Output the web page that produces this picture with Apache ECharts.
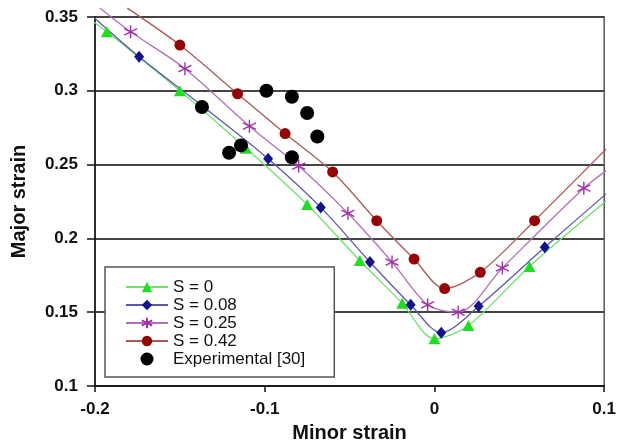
<!DOCTYPE html>
<html>
<head>
<meta charset="utf-8">
<script src="https://cdn.jsdelivr.net/npm/echarts@6/dist/echarts.min.js"></script>
<style>html,body{margin:0;padding:0;background:#fff}#c{width:619px;height:448px}</style>
</head>
<body>
<div id="c"></div>
<script>
// Marker points [minor strain, major strain]
const s0Points = [[-0.193,0.340],[-0.150,0.300],[-0.111,0.261],[-0.075,0.223],[-0.044,0.185],[-0.019,0.156],[0.000,0.132],[0.020,0.141],[0.056,0.181]];
const s0Ends = [[-0.205,0.350],[0.105,0.229]];
const s008Points = [[-0.174,0.323],[-0.136,0.289],[-0.098,0.254],[-0.067,0.221],[-0.038,0.184],[-0.014,0.155],[0.004,0.136],[0.026,0.154],[0.065,0.194]];
const s008Ends = [[-0.203,0.352],[0.105,0.234]];
const s025Points = [[-0.179,0.340],[-0.147,0.315],[-0.109,0.276],[-0.080,0.249],[-0.051,0.217],[-0.025,0.184],[-0.004,0.155],[0.014,0.150],[0.040,0.180],[0.088,0.234]];
const s025Ends = [[-0.197,0.356],[0.105,0.249]];
const s042Points = [[-0.150,0.331],[-0.116,0.298],[-0.088,0.271],[-0.060,0.245],[-0.034,0.212],[-0.012,0.186],[0.006,0.166],[0.027,0.177],[0.059,0.212]];
const s042Ends = [[-0.181,0.356],[0.105,0.265]];
const expPoints = [[-0.137,0.289],[-0.121,0.258],[-0.114,0.263],[-0.099,0.300],[-0.084,0.296],[-0.084,0.255],[-0.075,0.285],[-0.069,0.269]];
const seriesNames = ['S = 0','S = 0.08','S = 0.25','S = 0.42','Experimental [30]'];
const xTicks = [-0.2,-0.1,0,0.1];
const yTicks = [0.1,0.15,0.2,0.25,0.3,0.35];

function lineData(pts, ends){
  return [{value: ends[0], symbol:'none'}].concat(pts.map(p => ({value:p}))).concat([{value: ends[1], symbol:'none'}]);
}
const star = 'path://M10,0L10,20M1.34,5L18.66,15M1.34,15L18.66,5';
function mkLine(name, pts, ends, lineColor, markColor, symbol, size, border){
  return {
    name, type:'line', data: lineData(pts, ends), smooth:0.3, clip:false,
    showAllSymbol:true, symbol, symbolSize:size,
    lineStyle:{color:lineColor, width:1.3},
    itemStyle:{color:markColor, borderColor:markColor, borderWidth:border, opacity:1},
    emphasis:{disabled:true}, animation:false
  };
}
const chart = echarts.init(document.getElementById('c'), null, {renderer:'canvas'});
const fmt = v => { const r = Math.round(v*100)/100; return String(r); };
chart.setOption({
  animation:false,
  grid:{left:95,right:14,top:17,bottom:62, show:true, borderColor:'#555', borderWidth:1.5, backgroundColor:'transparent'},
  xAxis:{type:'value', min:xTicks[0], max:xTicks[xTicks.length-1], interval:0.1,
    name:'Minor strain', nameLocation:'middle', nameGap:37,
    nameTextStyle:{fontFamily:'Liberation Sans', fontWeight:'bold', fontSize:20, color:'#111'},
    axisLine:{onZero:false, lineStyle:{color:'#111', width:1.5}},
    axisTick:{show:true, length:6, inside:false, lineStyle:{color:'#111', width:1.5}},
    axisLabel:{fontFamily:'Liberation Sans', fontWeight:'bold', fontSize:17, color:'#111', margin:15, formatter:fmt},
    splitLine:{show:false}},
  yAxis:{type:'value', min:yTicks[0], max:yTicks[yTicks.length-1], interval:0.05,
    name:'Major strain', nameLocation:'middle', nameGap:66, nameRotate:90,
    nameTextStyle:{fontFamily:'Liberation Sans', fontWeight:'bold', fontSize:20, color:'#111'},
    axisLine:{show:true, onZero:false, lineStyle:{color:'#111', width:1.5}},
    axisTick:{show:true, length:8, inside:false, lineStyle:{color:'#111', width:1.5}},
    axisLabel:{fontFamily:'Liberation Sans', fontWeight:'bold', fontSize:17, color:'#111', margin:17, formatter:fmt},
    splitLine:{show:true, lineStyle:{color:'#444', width:1.8}}},
  legend:{orient:'vertical', left:105, top:267, data:seriesNames,
    backgroundColor:'#fff', borderColor:'#555', borderWidth:1.5, borderRadius:0,
    padding:[11,29,9,20], itemWidth:42, itemHeight:13, itemGap:0,
    textStyle:{fontFamily:'Liberation Sans', fontSize:17, color:'#111', lineHeight:18},
    selectedMode:false},
  series:[
    mkLine(seriesNames[0], s0Points, s0Ends, '#6fe06f', '#22dd22', 'triangle', [12,11], 0),
    mkLine(seriesNames[1], s008Points, s008Ends, '#5a5aa8', '#12128a', 'diamond', [10,12], 0),
    mkLine(seriesNames[2], s025Points, s025Ends, '#b070b8', '#a030a8', star, [13,13], 1.4),
    mkLine(seriesNames[3], s042Points, s042Ends, '#a85a55', '#950505', 'circle', 11, 0),
    {name:seriesNames[4], type:'scatter', data:expPoints, symbol:'circle', symbolSize:14,
      itemStyle:{color:'#000', opacity:1}, emphasis:{disabled:true}, z:5}
  ]
});
</script>
</body>
</html>
